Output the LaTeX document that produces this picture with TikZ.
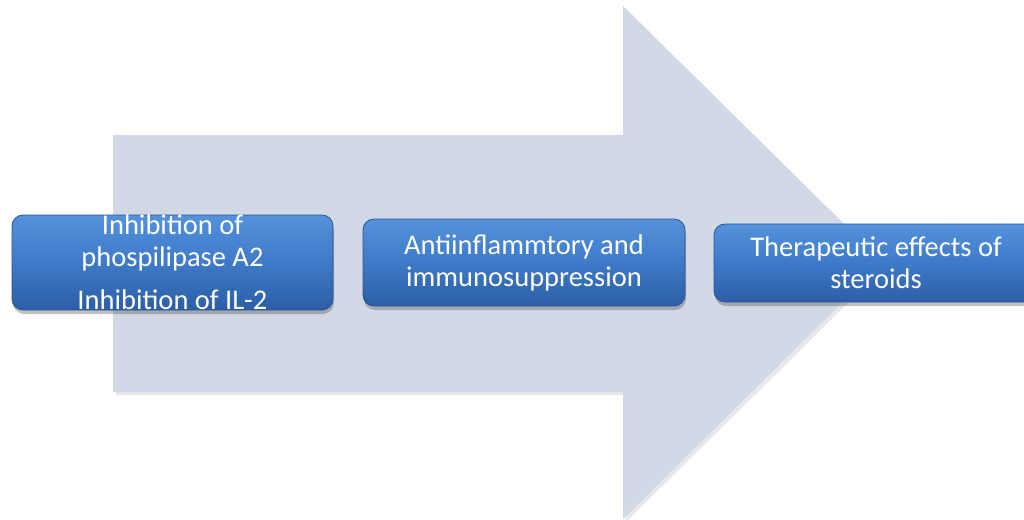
\documentclass[tikz,border=0pt]{standalone}
\usepackage{fontspec}
\setmainfont{Carlito}
\usetikzlibrary{shadows}
\definecolor{arrowfill}{RGB}{209,216,230}
\definecolor{boxtop}{RGB}{84,146,220}
\definecolor{boxmid}{RGB}{62,122,200}
\definecolor{boxbot}{RGB}{44,94,166}
\definecolor{boxedge}{RGB}{42,84,146}
\tikzset{
  stepbox/.style={rounded corners=11pt, draw=boxedge, line width=0.8pt,
    top color=boxtop, bottom color=boxbot, middle color=boxmid,
    text=white, align=center, inner sep=0pt,
    font=\fontsize{28.5}{32}\selectfont,
    drop shadow={shadow xshift=1pt, shadow yshift=-4pt, opacity=0.35, fill=black!70}},
  bigarrow/.style={fill=arrowfill, draw=none,
    drop shadow={shadow xshift=3pt, shadow yshift=-3pt, opacity=0.18}}
}
\begin{document}
\begin{tikzpicture}[x=1pt,y=-1pt]
\useasboundingbox (0,0) rectangle (1024,519);
\begin{scope}
\clip (0,0) rectangle (1024,519);
\fill[white] (0,0) rectangle (1024,519);
\path[bigarrow] (113,135) -- (623,135) -- (623,6) -- (883,262.5) -- (623,519) -- (623,392) -- (113,392) -- cycle;
\node[stepbox, minimum width=321pt, minimum height=95pt] (b1) at (172.5,262.5)
  {Inhibition of\\phospilipase A2\\[11pt]Inhibition of IL-2};
\node[stepbox, minimum width=322pt, minimum height=87pt] (b2) at (524,262.5)
  {Antiinflammtory and\\immunosuppression};
\node[stepbox, minimum width=324pt, minimum height=78pt] (b3) at (876,263)
  {Therapeutic effects of\\steroids};
\end{scope}
\end{tikzpicture}
\end{document}
